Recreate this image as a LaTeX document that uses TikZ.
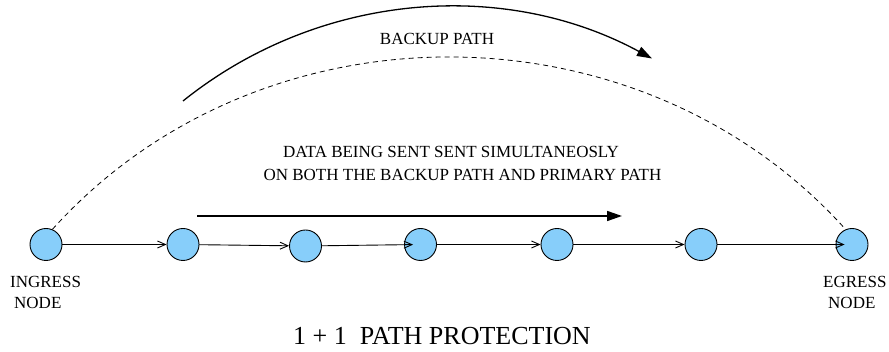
\documentclass[tikz,border=0pt]{standalone}
\usepackage{fontspec}
\setmainfont{Liberation Serif}
\usetikzlibrary{arrows.meta}

\definecolor{nodeblue}{RGB}{135,206,250}

\tikzset{
  router/.style={circle, draw=black, line width=0.9pt, fill=nodeblue,
                 minimum size=32pt, inner sep=0pt},
  hop/.style={draw=black, line width=0.9pt,
              -{Straight Barb[length=8pt, width=7pt, line width=0.9pt]}},
  lbl/.style={inner sep=0pt, font=\fontsize{17}{20}\selectfont},
  titlelbl/.style={inner sep=0pt, font=\fontsize{26}{30}\selectfont},
  flowarrow/.style={line width=1.6pt, -{Triangle[length=15pt, width=10pt]}},
  backuparrow/.style={line width=1.3pt, -{Triangle[length=15pt, width=10pt]}},
  backuplink/.style={line width=0.8pt, dash pattern=on 5pt off 4pt}
}

\begin{document}
\begin{tikzpicture}[x=1pt, y=1pt]
  \useasboundingbox (0,0) rectangle (889,352);

  % primary path routers
  \node[router] (n1) at (46,107.5) {};
  \node[router] (n2) at (183,107.5) {};
  \node[router] (n3) at (305.5,106) {};
  \node[router] (n4) at (420.5,107.5) {};
  \node[router] (n5) at (557,107.5) {};
  \node[router] (n6) at (701,107.5) {};
  \node[router] (n7) at (852,107.5) {};

  % primary path links
  \draw[hop] (n1) -- (n2);
  \draw[hop] (n2) -- (n3);
  \draw[hop, shorten >=-9pt] (n3) -- (n4);
  \draw[hop] (n4) -- (n5);
  \draw[hop] (n5) -- (n6);
  \draw[hop, shorten >=-9pt] (n6) -- (n7);

  % backup path link
  \draw[backuplink] (n1.67) to[out=48, in=132] (n7.113);

  % backup path direction
  \coordinate (bk0) at (183,251);
  \draw[backuparrow] (bk0) arc[start angle=128.77, end angle=61.59, radius=425.6pt];
  \node[lbl, anchor=base] (bklbl) at (437,307.4) {BACKUP PATH};

  % primary path direction
  \coordinate (d0) at (197,136);
  \coordinate (d1) at (622,136);
  \draw[flowarrow] (d0) -- (d1);
  \node[lbl, anchor=base] (data1) at (451,194) {DATA BEING SENT SENT SIMULTANEOSLY};
  \node[lbl, anchor=base] (data2) at (462.5,171) {ON BOTH THE BACKUP PATH AND PRIMARY PATH};

  % end node labels
  \node[lbl, anchor=base west] (ing1) at (10,64) {INGRESS};
  \node[lbl, anchor=base west] (ing2) at (14,43) {NODE};
  \node[lbl, anchor=base west] (egr1) at (823,64) {EGRESS};
  \node[lbl, anchor=base west] (egr2) at (828,43) {NODE};

  % caption
  \node[titlelbl, anchor=base west] (title) at (293,7) {1 + 1\ \ PATH PROTECTION};
\end{tikzpicture}
\end{document}
